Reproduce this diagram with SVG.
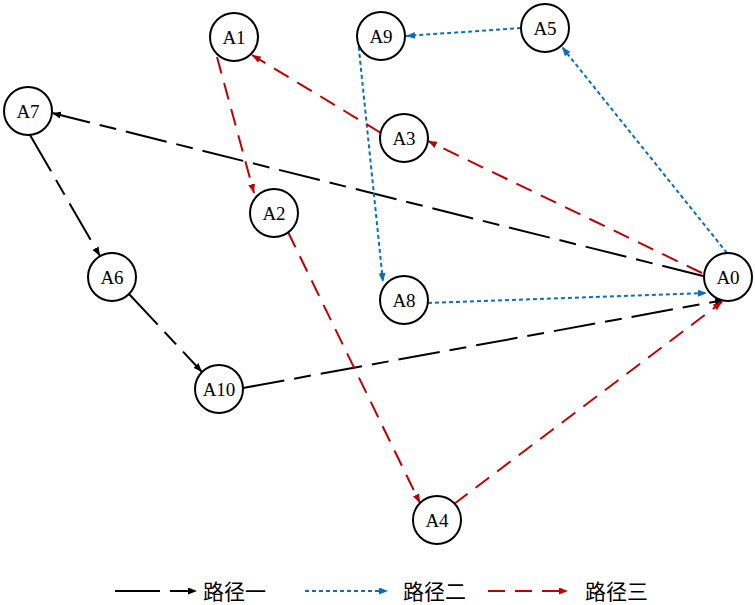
<svg xmlns="http://www.w3.org/2000/svg" width="755" height="605" viewBox="0 0 755 605">
<style>
.node circle{fill:#fff;stroke:#000;stroke-width:2}
.node text{font-family:"Liberation Serif","DejaVu Serif",serif;font-size:19px;fill:#000;text-anchor:middle;dominant-baseline:central}
.p1{stroke:#000;stroke-width:2;fill:none;stroke-dasharray:42 10 17 10}
.p2{stroke:#0a6ebd;stroke-width:2;fill:none;stroke-dasharray:4 3}
.p3{stroke:#c00000;stroke-width:2;fill:none;stroke-dasharray:17 10}
.leg{font-family:"Noto Sans CJK SC","Noto Sans",sans-serif;font-size:21px;fill:#000}
</style>
<defs>
<marker id="m1" markerUnits="userSpaceOnUse" markerWidth="10" markerHeight="8" refX="9" refY="3.5" orient="auto"><path d="M0,0 L9,3.5 L0,7 z" fill="#000"/></marker>
<marker id="m2" markerUnits="userSpaceOnUse" markerWidth="10" markerHeight="8" refX="9" refY="3.5" orient="auto"><path d="M0,0 L9,3.5 L0,7 z" fill="#0a6ebd"/></marker>
<marker id="m3" markerUnits="userSpaceOnUse" markerWidth="10" markerHeight="8" refX="9" refY="3.5" orient="auto"><path d="M0,0 L9,3.5 L0,7 z" fill="#c00000"/></marker>
</defs>
<g id="connectors">
<line class="p1" x1="703" y1="276" x2="52" y2="113" marker-end="url(#m1)"/>
<line class="p1" x1="30" y1="135" x2="100" y2="256" marker-end="url(#m1)"/>
<line class="p1" x1="129" y1="294" x2="202" y2="372" marker-end="url(#m1)"/>
<line class="p1" x1="243" y1="388" x2="724" y2="300" marker-end="url(#m1)"/>
<line class="p2" x1="727" y1="253" x2="562" y2="47" marker-end="url(#m2)"/>
<line class="p2" x1="521" y1="28" x2="406" y2="36" marker-end="url(#m2)"/>
<line class="p2" x1="358" y1="40" x2="383" y2="282" marker-end="url(#m2)"/>
<line class="p2" x1="428" y1="303" x2="707" y2="293" marker-end="url(#m2)"/>
<line class="p3" x1="702" y1="273" x2="428" y2="141" marker-end="url(#m3)"/>
<line class="p3" x1="381" y1="133" x2="252" y2="55" marker-end="url(#m3)"/>
<line class="p3" x1="217" y1="57" x2="254" y2="193" marker-end="url(#m3)"/>
<line class="p3" x1="288" y1="232" x2="420" y2="503" marker-end="url(#m3)"/>
<line class="p3" x1="454" y1="504" x2="722" y2="302" marker-end="url(#m3)"/>
</g>
<g id="A0" class="node"><circle cx="728" cy="277" r="24"/><text x="728" y="277">A0</text></g>
<g id="A1" class="node"><circle cx="234" cy="37" r="24"/><text x="234" y="37">A1</text></g>
<g id="A2" class="node"><circle cx="274" cy="213" r="24"/><text x="274" y="213">A2</text></g>
<g id="A3" class="node"><circle cx="404" cy="138" r="24"/><text x="404" y="138">A3</text></g>
<g id="A4" class="node"><circle cx="437" cy="520" r="24"/><text x="437" y="520">A4</text></g>
<g id="A5" class="node"><circle cx="545" cy="28" r="24"/><text x="545" y="28">A5</text></g>
<g id="A6" class="node"><circle cx="112" cy="277" r="24"/><text x="112" y="277">A6</text></g>
<g id="A7" class="node"><circle cx="28" cy="111" r="24"/><text x="28" y="111">A7</text></g>
<g id="A8" class="node"><circle cx="404" cy="300" r="24"/><text x="404" y="300">A8</text></g>
<g id="A9" class="node"><circle cx="381" cy="36" r="24"/><text x="381" y="36">A9</text></g>
<g id="A10" class="node"><circle cx="219" cy="389" r="24"/><text x="219" y="389">A10</text></g>
<g id="legend">
<line class="p1" x1="115" y1="591" x2="197" y2="591" style="stroke-dasharray:45 10 18 10" marker-end="url(#m1)"/>
<text class="leg" x="203" y="599">路径一</text>
<line class="p2" x1="305" y1="591" x2="388" y2="591" marker-end="url(#m2)"/>
<text class="leg" x="403" y="599">路径二</text>
<line class="p3" x1="488" y1="591" x2="568" y2="591" marker-end="url(#m3)"/>
<text class="leg" x="585" y="599">路径三</text>
</g>
</svg>
